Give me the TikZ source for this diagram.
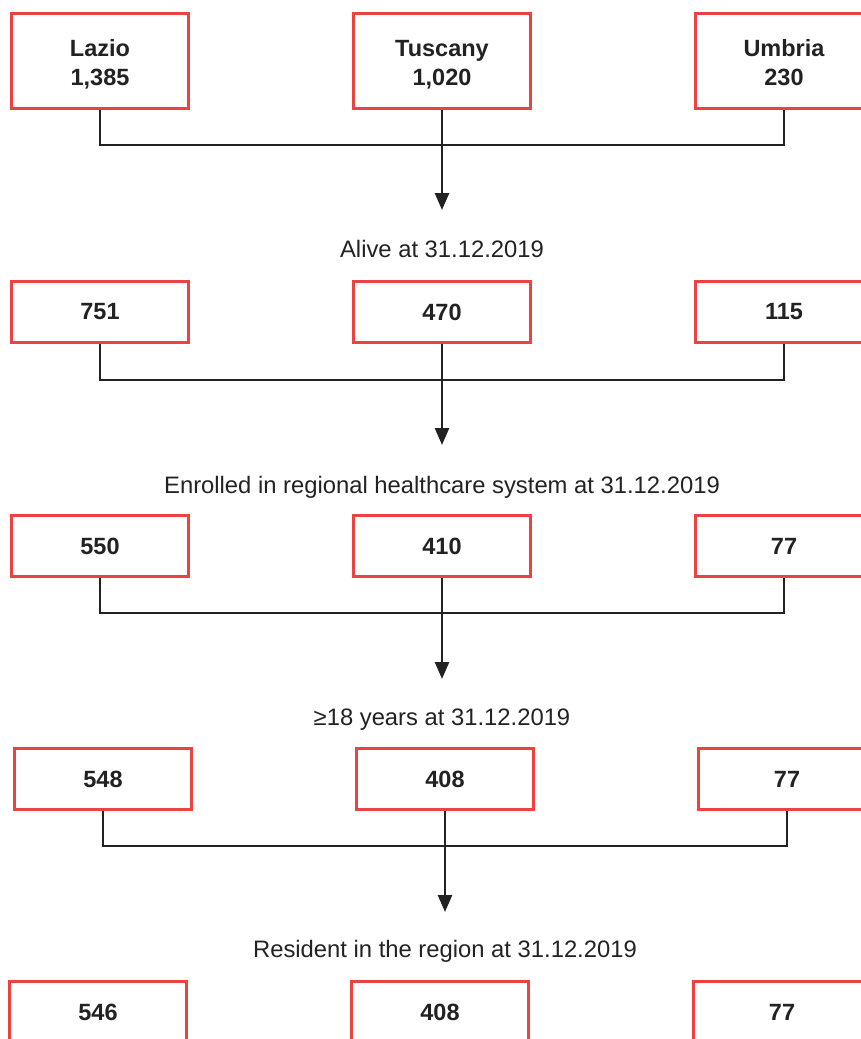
\documentclass[tikz,border=0pt]{standalone}
\usepackage{fontspec}
\setmainfont{Liberation Sans}
\usetikzlibrary{arrows.meta}
\definecolor{boxred}{RGB}{236,66,66}
\definecolor{ink}{RGB}{34,34,34}
\newcommand{\capstrut}{\rule{0pt}{25pt}}
\newcommand{\lowstrut}{\rule[-6pt]{0pt}{6pt}}
\tikzset{
  box/.style={draw=boxred, line width=2.6pt, fill=white, minimum width=177pt,
    minimum height=61pt, inner sep=0pt, align=center, text=ink,
    font=\bfseries\fontsize{23.5}{29}\selectfont},
  regionbox/.style={box, minimum height=95pt},
  steplabel/.style={anchor=base, inner sep=0pt, text=ink, font=\fontsize{23.8}{28}\selectfont},
  link/.style={draw=ink, line width=2.6pt},
  down/.style={link, -{Triangle[width=14pt,length=17pt]}},
}

\begin{document}
\begin{tikzpicture}[x=1pt,y=-1pt]
\useasboundingbox (0,0) rectangle (861,1039);

% regions
\node[regionbox] (lazio1) at (100,61) {\capstrut Lazio\\1,385\lowstrut};
\node[regionbox] (tuscany1) at (442,61) {\capstrut Tuscany\\1,020\lowstrut};
\node[regionbox] (umbria1) at (784,61) {\capstrut Umbria\\230\lowstrut};
\draw[link] (lazio1.south) -- ++(0,35) -| (umbria1.south);
\coordinate (tip1) at (442,210);
\draw[down] (tuscany1.south) -- (tip1);
\node[steplabel] (alive) at (442,257) {Alive at 31.12.2019};

% alive
\node[box] (lazio2) at (100,312) {751};
\node[box] (tuscany2) at (442,312) {470};
\node[box] (umbria2) at (784,312) {115};
\draw[link] (lazio2.south) -- ++(0,36) -| (umbria2.south);
\coordinate (tip2) at (442,445);
\draw[down] (tuscany2.south) -- (tip2);
\node[steplabel] (enrolled) at (442,493) {Enrolled in regional healthcare system at 31.12.2019};

% enrolled
\node[box] (lazio3) at (100,546) {550};
\node[box] (tuscany3) at (442,546) {410};
\node[box] (umbria3) at (784,546) {77};
\draw[link] (lazio3.south) -- ++(0,35) -| (umbria3.south);
\coordinate (tip3) at (442,679);
\draw[down] (tuscany3.south) -- (tip3);
\node[steplabel] (adult) at (442,725) {≥18 years at 31.12.2019};

% adults
\node[box] (lazio4) at (103,779) {548};
\node[box] (tuscany4) at (445,779) {408};
\node[box] (umbria4) at (787,779) {77};
\draw[link] (lazio4.south) -- ++(0,35) -| (umbria4.south);
\coordinate (tip4) at (445,912);
\draw[down] (tuscany4.south) -- (tip4);
\node[steplabel] (resident) at (445,957) {Resident in the region at 31.12.2019};

% residents
\node[box] (lazio5) at (98,1012) {546};
\node[box] (tuscany5) at (440,1012) {408};
\node[box] (umbria5) at (782,1012) {77};
\end{tikzpicture}
\end{document}
